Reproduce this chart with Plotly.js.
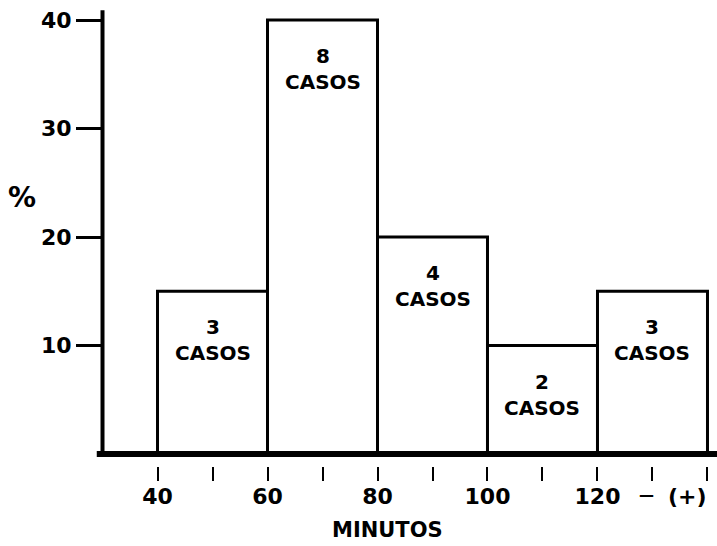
<!DOCTYPE html>
<html>
<head>
<meta charset="utf-8">
<script src="https://cdn.plot.ly/plotly-3.0.1.min.js"></script>
<style>html,body{margin:0;padding:0;background:#fff;}#chart{width:717px;height:546px;}</style>
</head>
<body>
<div id="chart"></div>
<script>
// Data
const binStarts = [40, 60, 80, 100, 120];
const binWidth = 20;
const percents = [15, 40, 20, 10, 15];
const cases = [3, 8, 4, 2, 3];
const caseWord = 'CASOS';
const xTickVals = [40, 50, 60, 70, 80, 90, 100, 110, 120, 130, 140];
const xTickText = ['40', '', '60', '', '80', '', '100', '', '120', '', ''];
const yTickVals = [10, 20, 30, 40];
const yTickText = ['10', '20', '30', '40'];
const openEndDash = '—';
const openEndLabel = '(+)';
const xTitle = 'MINUTOS';
const yTitle = '%';

const FONT = 'DejaVu Sans, Arial, sans-serif';
const mids = binStarts.map(s => s + binWidth / 2);

const trace = {
  type: 'bar',
  x: mids,
  y: percents,
  width: binStarts.map(() => binWidth),
  marker: { color: '#ffffff', line: { color: '#000000', width: 3 } },
  hoverinfo: 'none',
  showlegend: false
};

const annotations = mids.map((m, i) => ({
  x: m, y: percents[i], xref: 'x', yref: 'y',
  text: cases[i] + '<br>' + caseWord,
  showarrow: false, yanchor: 'top', yshift: -22,
  font: { family: FONT, size: 20, color: '#000', weight: 'bold' }
}));

annotations.push({
  x: 129.0, y: -0.064, xref: 'x', yref: 'paper',
  text: openEndDash, showarrow: false, yanchor: 'middle', xanchor: 'center',
  font: { family: FONT, size: 15, color: '#000', weight: 'bold' }
});
annotations.push({
  x: 136.3, y: -0.066, xref: 'x', yref: 'paper',
  text: openEndLabel, showarrow: false, yanchor: 'middle', xanchor: 'center',
  font: { family: FONT, size: 22, color: '#000', weight: 'bold' }
});
annotations.push({
  x: 0.467, y: -0.14, xref: 'paper', yref: 'paper',
  text: xTitle, showarrow: false, yanchor: 'middle', xanchor: 'center',
  font: { family: FONT, size: 21, color: '#000', weight: 'bold' }
});
annotations.push({
  x: -0.123, y: 23.6, xref: 'paper', yref: 'y',
  text: yTitle, showarrow: false, yanchor: 'middle', xanchor: 'center',
  font: { family: FONT, size: 28, color: '#000', weight: 'bold' }
});

const layout = {
  width: 717, height: 546,
  margin: { l: 98, r: 0, t: 8, b: 80 },
  paper_bgcolor: '#fff', plot_bgcolor: '#fff',
  bargap: 0,
  xaxis: {
    range: [29.18, 141.73], showgrid: false, zeroline: false, showline: false,
    tickmode: 'array', tickvals: xTickVals, ticktext: xTickText,
    ticks: 'outside', ticklen: 14, tickwidth: 2, tickcolor: '#000',
    ticklabelstandoff: -3,
    tickfont: { family: FONT, size: 22, color: '#000', weight: 'bold' },
    fixedrange: true
  },
  yaxis: {
    range: [-1.106, 41.106], showgrid: false, zeroline: false, showline: false,
    anchor: 'free', position: 0.0065,
    tickmode: 'array', tickvals: yTickVals, ticktext: yTickText,
    ticks: 'outside', ticklen: 26, tickwidth: 3, tickcolor: '#000',
    tickfont: { family: FONT, size: 22, color: '#000', weight: 'bold' },
    fixedrange: true
  },
  shapes: [
    { type: 'line', xref: 'x', yref: 'y', x0: 30, x1: 30, y0: 0, y1: 40.9,
      line: { color: '#000', width: 4 } },
    { type: 'line', xref: 'paper', yref: 'y', x0: -0.002, x1: 1, y0: 0, y1: 0,
      line: { color: '#000', width: 6 } }
  ],
  annotations: annotations
};

Plotly.newPlot('chart', [trace], layout, { staticPlot: true, displayModeBar: false });
</script>
</body>
</html>
